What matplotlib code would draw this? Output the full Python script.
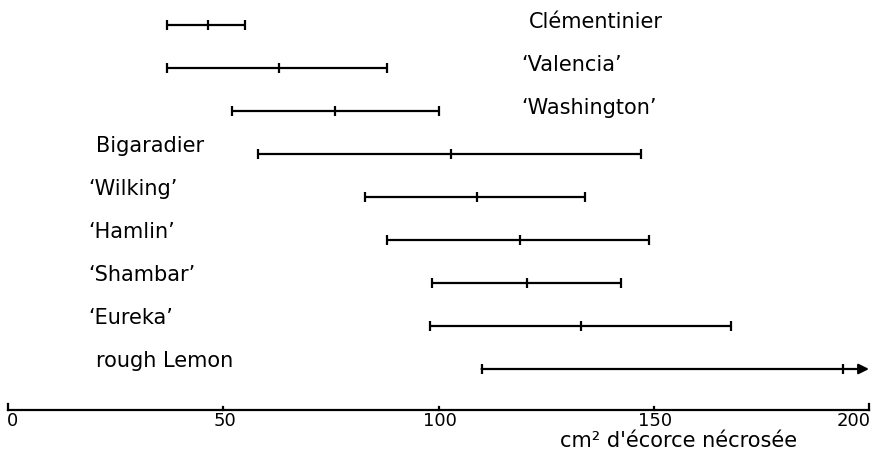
import matplotlib
matplotlib.use("Agg")
import matplotlib.pyplot as plt

# ---- data ----
rootstocks = ["Clémentinier", "‘Valencia’", "‘Washington’", "Bigaradier",
              "‘Wilking’", "‘Hamlin’", "‘Shambar’", "‘Eureka’", "rough Lemon"]
low = [37, 37, 52, 58, 83, 88, 98.5, 98, 110]
mean = [46.5, 63, 76, 103, 109, 119, 120.5, 133, 194]
high = [55, 88, 100, 147, 134, 149, 142.5, 168, 200]
open_ended = [False, False, False, False, False, False, False, False, True]
label_side = ["right", "right", "right", "left", "left", "left", "left", "left", "left"]
xticks = [0, 50, 100, 150, 200]
xlabel = "cm² d'écorce nécrosée"

plt.rcParams['font.family'] = ['DejaVu Sans']

fig = plt.figure(figsize=(8.75, 4.59), dpi=100)
ax = fig.add_axes([0, 0, 1, 1])
px = 4.305  # pixels per data unit
ax.set_xlim(-8 / px, 200 + 6 / px)
row_h = 43.0
ax.set_ylim((459 - 25) / row_h, -25 / row_h)
ax.axis("off")

lw = 1.6
fs = 15
right_x = (529 - 8) / px
left_x = (96 - 8) / px
quote_w = 7.5 / px
for i, name in enumerate(rootstocks):
    y = i
    if open_ended[i]:
        ax.annotate("", xy=(high[i], y), xytext=(low[i], y),
                    arrowprops=dict(arrowstyle="-|>,head_length=0.6,head_width=0.3",
                                    color="black", lw=lw, shrinkA=0, shrinkB=0))
        ax.plot([low[i], mean[i]], [y, y], ls="none", marker="|",
                color="black", ms=7.5, mew=lw)
    else:
        ax.plot([low[i], high[i]], [y, y], color="black", lw=lw,
                solid_capstyle="butt")
        ax.plot([low[i], mean[i], high[i]], [y, y, y], ls="none", marker="|",
                color="black", ms=7.5, mew=lw)
    shift = quote_w if name.startswith("‘") else 0
    if label_side[i] == "right":
        ax.text(right_x - shift, y - 0.07, name, ha="left", va="center", fontsize=fs)
    else:
        ax.text(left_x - shift, y - 0.18, name, ha="left", va="center", fontsize=fs)

# bottom axis
axis_y = (410 - 25) / row_h
ax.plot([xticks[0], xticks[-1]], [axis_y, axis_y], color="black", lw=lw)
for t in xticks:
    h = 6 / row_h if t in (xticks[0], xticks[-1]) else 3 / row_h
    ax.plot([t, t], [axis_y, axis_y - h], color="black", lw=lw)
    if t == xticks[0]:
        ax.text(t - 0.3, axis_y + 0.05, str(t), ha="left", va="top", fontsize=13)
    elif t == xticks[-1]:
        ax.text(t + 0.3, axis_y + 0.05, str(t), ha="right", va="top", fontsize=13)
    else:
        ax.text(t + 0.3, axis_y + 0.05, str(t), ha="center", va="top", fontsize=13)

ax.text(128.2, (441 - 25) / row_h, xlabel, ha="left", va="center", fontsize=fs)

fig.savefig("out.png", dpi=100)
